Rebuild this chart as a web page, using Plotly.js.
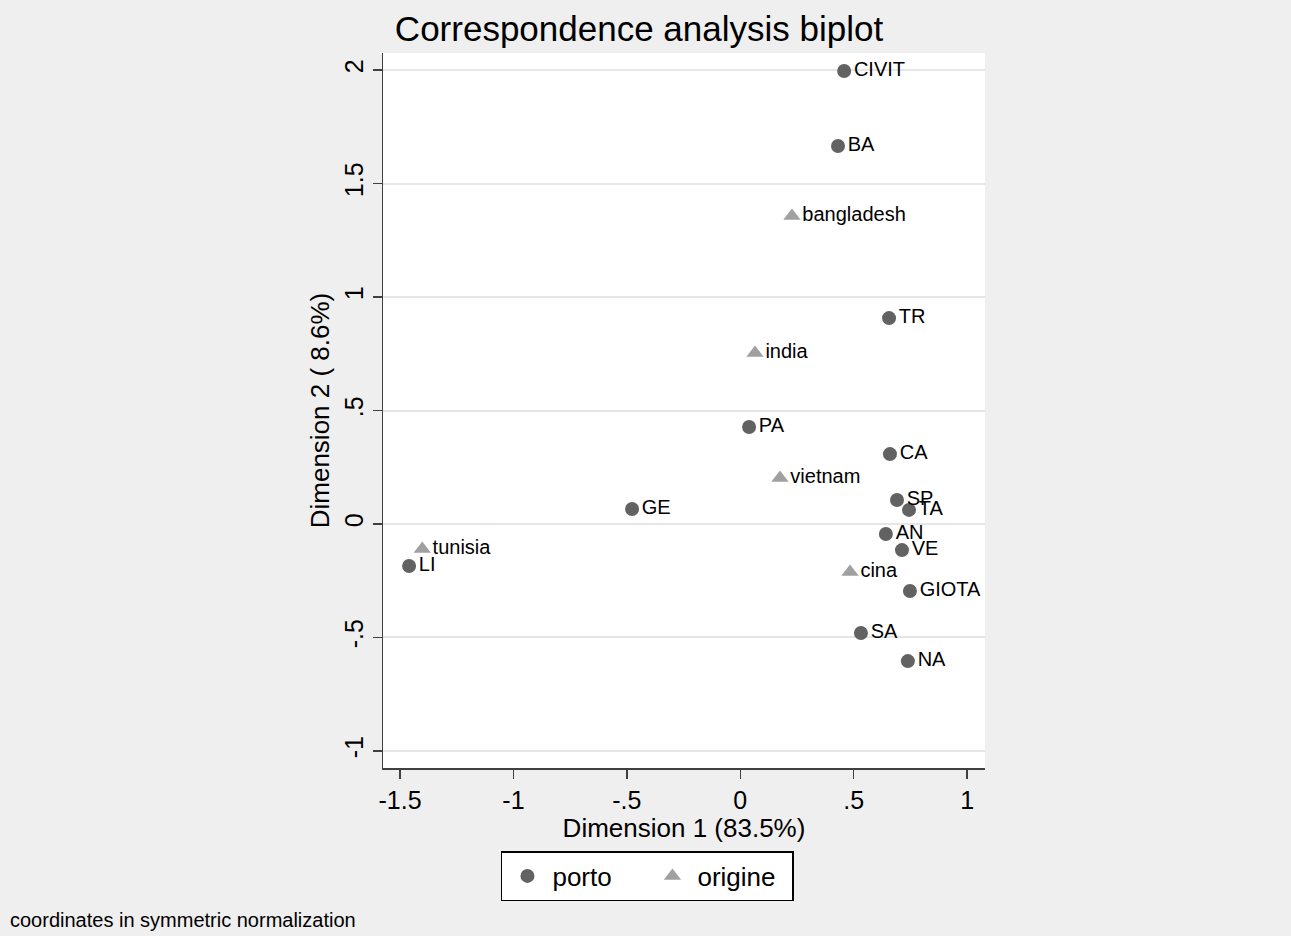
<!DOCTYPE html>
<html>
<head>
<meta charset="utf-8">
<script src="https://cdn.plot.ly/plotly-3.0.1.min.js"></script>
<style>html,body{margin:0;padding:0;background:#efefef;}#chart{width:1291px;height:936px;}</style>
</head>
<body>
<div id="chart"></div>
<script>
// porto (row points)
const portoLabels = ["CIVIT","BA","TR","PA","CA","GE","SP","TA","AN","VE","LI","GIOTA","SA","NA"];
const portoX = [0.458,0.431,0.656,0.039,0.660,-0.477,0.691,0.744,0.642,0.713,-1.460,0.748,0.532,0.739];
const portoY = [1.996,1.665,0.907,0.427,0.308,0.066,0.106,0.062,-0.044,-0.115,-0.185,-0.295,-0.480,-0.604];
// origine (column points)
const origLabels = ["bangladesh","india","vietnam","tunisia","cina"];
const origX = [0.228,0.065,0.175,-1.402,0.484];
const origY = [1.357,0.753,0.203,-0.110,-0.211];
// ticks
const xTickVals = [-1.5,-1,-0.5,0,0.5,1];
const xTickText = ["-1.5","-1","-.5","0",".5","1"];
const yTickVals = [-1,-0.5,0,0.5,1,1.5,2];
const yTickText = ["-1","-.5","0",".5","1","1.5","2"];

const font = "Liberation Sans, Arial, sans-serif";

const traces = [
  {x: portoX, y: portoY, text: portoLabels, name: "porto", type: "scatter", mode: "markers+text",
   textposition: "middle right", textfont: {family: font, size: 20, color: "#000"},
   marker: {symbol: "circle", size: 14, color: "#626262"}, cliponaxis: false},
  {x: origX, y: origY, text: origLabels, name: "origine", type: "scatter", mode: "markers+text",
   textposition: "middle right", textfont: {family: font, size: 20, color: "#000"},
   marker: {symbol: "triangle-up", size: 15, color: "#a0a0a0"}, cliponaxis: false}
];

const layout = {
  width: 1291, height: 936,
  paper_bgcolor: "#efefef", plot_bgcolor: "#ffffff",
  margin: {l: 383, r: 306, t: 53, b: 168},
  font: {family: font, color: "#000"},
  title: {text: "Correspondence analysis biplot", font: {family: font, size: 35, color: "#000"},
          x: 0.495, xref: "container", xanchor: "center", y: 1 - 29/936, yref: "container", yanchor: "middle"},
  xaxis: {range: [-1.575, 1.079], tickvals: xTickVals, ticktext: xTickText, showgrid: false, zeroline: false,
          showline: true, linecolor: "#404040", linewidth: 1.5, ticks: "outside", ticklen: 9, tickwidth: 1.5, tickcolor: "#404040",
          tickfont: {family: font, size: 25, color: "#000"},
          title: {text: "Dimension 1 (83.5%)", font: {family: font, size: 26, color: "#000"}, standoff: 0}},
  yaxis: {range: [-1.075, 2.075], tickvals: yTickVals, ticktext: yTickText, showgrid: true, gridcolor: "#e6e6e6", gridwidth: 2,
          zeroline: false, showline: true, linecolor: "#404040", linewidth: 1.5, ticks: "outside", ticklen: 9, tickwidth: 1.5, tickcolor: "#404040",
          tickangle: -90, tickfont: {family: font, size: 25, color: "#000"},
          title: {text: "Dimension 2 ( 8.6%)", font: {family: font, size: 26, color: "#000"}, standoff: 2}},
  showlegend: true,
  legend: {orientation: "h", x: 0.5015, xref: "container", xanchor: "center", y: 1 - 851/936, yref: "container", yanchor: "top",
           bgcolor: "#ffffff", bordercolor: "#000", borderwidth: 1.5, font: {family: font, size: 26, color: "#000"},
           itemwidth: 40, entrywidth: 90},
  annotations: [{text: "coordinates in symmetric normalization", xref: "paper", yref: "paper",
                 x: (8 - 383) / 602, y: (768 - 920) / 715, xanchor: "left", yanchor: "middle", showarrow: false,
                 font: {family: font, size: 20, color: "#000"}}]
};

Plotly.newPlot("chart", traces, layout, {displayModeBar: false, staticPlot: true});
</script>
</body>
</html>
